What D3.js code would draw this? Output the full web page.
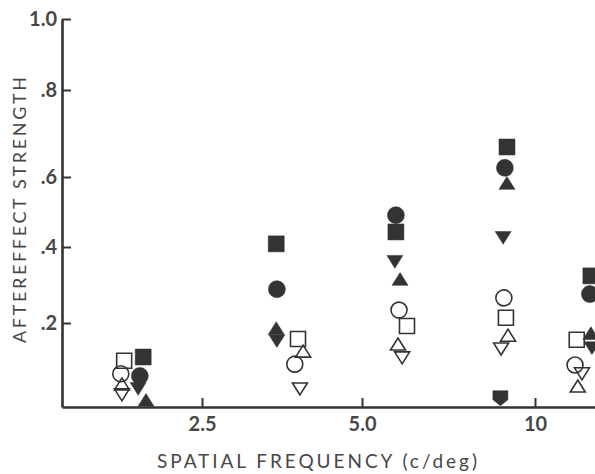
<!DOCTYPE html>
<html>
<head>
<meta charset="utf-8">
<script src="https://cdn.jsdelivr.net/npm/d3@7"></script>
<style>
  body { margin: 0; background: #fff; }
  text { font-family: Lato, "DejaVu Sans", sans-serif; fill: #474747; }
</style>
</head>
<body>
<script>
// tick values / labels
const xTickValues = [2.5, 5.0, 10];
const xTickLabels = ['2.5', '5.0', '10'];
const yTickValues = [0.2, 0.4, 0.6, 0.8, 1.0];
const yTickLabels = ['.2', '.4', '.6', '.8', '1.0'];

// series: spatial frequency (x) and aftereffect strength (y)
const filledSquareF = [1.45, 3.66, 5.98, 9.19, 11.62];
const filledSquareV = [0.119, 0.409, 0.443, 0.669, 0.324];
const filledCircleF = [1.39, 3.67, 5.98, 9.13, 11.59];
const filledCircleV = [0.074, 0.289, 0.491, 0.621, 0.276];
const filledTriUpF = [1.5, 3.66, 6.1, 9.19, 11.62];
const filledTriUpV = [0.017, 0.188, 0.316, 0.583, 0.176];
const filledTriDownF = [1.36, 3.67, 5.95, 9.08, 11.65];
const filledTriDownV = [0.043, 0.157, 0.361, 0.426, 0.14];
const openSquareF = [1.11, 4.0, 6.3, 9.16, 11.21];
const openSquareV = [0.11, 0.162, 0.193, 0.214, 0.16];
const openCircleF = [1.05, 3.95, 6.07, 9.1, 11.16];
const openCircleV = [0.079, 0.102, 0.234, 0.266, 0.1];
const openTriUpF = [1.07, 4.08, 6.04, 9.22, 11.24];
const openTriUpV = [0.055, 0.133, 0.15, 0.171, 0.05];
const openTriDownF = [1.07, 4.03, 6.16, 9.02, 11.36];
const openTriDownV = [0.029, 0.043, 0.117, 0.138, 0.079];
const shieldF = [9.0];
const shieldV = [0.021];

const width = 595, height = 474;
const ink = '#333';

const svg = d3.select('body')
  .append('svg')
    .attr('width', width)
    .attr('height', height);

// the printed axes are not evenly spaced, so piecewise scales follow the ticks
const x = d3.scaleLinear()
  .domain([0, 2.5, 5, 10, 12])
  .range([62, 202, 362, 535, 604]);
const y = d3.scaleLinear()
  .domain([0, 0.2, 0.4, 0.6, 0.8, 1.0])
  .range([407, 323, 247, 177, 90, 19]);

// custom marker shapes, size = width in px
const triUp = { draw(c, s) { const h = s * 0.8; c.moveTo(0, -h / 2); c.lineTo(s / 2, h / 2); c.lineTo(-s / 2, h / 2); c.closePath(); } };
const triDown = { draw(c, s) { const h = s * 0.8; c.moveTo(0, h / 2); c.lineTo(s / 2, -h / 2); c.lineTo(-s / 2, -h / 2); c.closePath(); } };
const square = { draw(c, s) { c.rect(-s / 2, -s / 2, s, s); } };
const circle = { draw(c, s) { c.moveTo(s / 2, 0); c.arc(0, 0, s / 2, 0, 2 * Math.PI); } };
const shield = { draw(c, s) { c.moveTo(-s / 2, -s / 2); c.lineTo(s / 2, -s / 2); c.lineTo(s / 2, s * 0.1); c.lineTo(0, s / 2); c.lineTo(-s / 2, s * 0.1); c.closePath(); } };

const series = [
  { f: openSquareF, v: openSquareV, type: square, size: 15, filled: false },
  { f: openCircleF, v: openCircleV, type: circle, size: 16, filled: false },
  { f: openTriUpF, v: openTriUpV, type: triUp, size: 15, filled: false },
  { f: openTriDownF, v: openTriDownV, type: triDown, size: 15, filled: false },
  { f: filledSquareF, v: filledSquareV, type: square, size: 16, filled: true },
  { f: filledCircleF, v: filledCircleV, type: circle, size: 17, filled: true },
  { f: filledTriUpF, v: filledTriUpV, type: triUp, size: 16, filled: true },
  { f: filledTriDownF, v: filledTriDownV, type: triDown, size: 16, filled: true },
  { f: shieldF, v: shieldV, type: shield, size: 15, filled: true }
];

// axes
const yAxis = d3.axisLeft(y)
  .tickValues(yTickValues)
  .tickFormat((d, i) => yTickLabels[i])
  .tickSizeInner(-9)
  .tickSizeOuter(0)
  .tickPadding(5);
const xAxis = d3.axisBottom(x)
  .tickValues(xTickValues)
  .tickFormat((d, i) => xTickLabels[i])
  .tickSizeInner(-9)
  .tickSizeOuter(0)
  .tickPadding(10);

const yGroup = svg.append('g').attr('transform', 'translate(62,0)').call(yAxis);
const xGroup = svg.append('g').attr('transform', 'translate(0,407)').call(xAxis);

[yGroup, xGroup].forEach(g => {
  g.select('.domain').attr('stroke', ink).attr('stroke-width', 2.6);
  g.selectAll('.tick line').attr('stroke', ink).attr('stroke-width', 2);
  g.selectAll('.tick text').attr('font-size', 20).attr('font-weight', 'bold').attr('fill', '#444')
    .attr('font-family', 'Lato, "DejaVu Sans", sans-serif');
});

// markers
series.forEach(s => {
  const pts = s.f.map((f, i) => ({ f, v: s.v[i] }));
  svg.append('g').selectAll('path')
    .data(pts)
    .enter()
    .append('path')
      .attr('d', d3.symbol().type(s.type).size(s.size))
      .attr('transform', d => `translate(${x(d.f)},${y(d.v)})`)
      .attr('fill', s.filled ? ink : 'none')
      .attr('stroke', ink)
      .attr('stroke-width', s.filled ? 0.5 : 1.6);
});

// axis titles
svg.append('text')
  .attr('x', 317)
  .attr('y', 468)
  .attr('text-anchor', 'middle')
  .attr('font-size', 19)
  .attr('textLength', 320)
  .attr('lengthAdjust', 'spacing')
  .text('SPATIAL FREQUENCY (c/deg)');

svg.append('text')
  .attr('transform', 'translate(26,210) rotate(-90)')
  .attr('text-anchor', 'middle')
  .attr('font-size', 18)
  .attr('textLength', 266)
  .attr('lengthAdjust', 'spacing')
  .text('AFTEREFFECT STRENGTH');
</script>
</body>
</html>
